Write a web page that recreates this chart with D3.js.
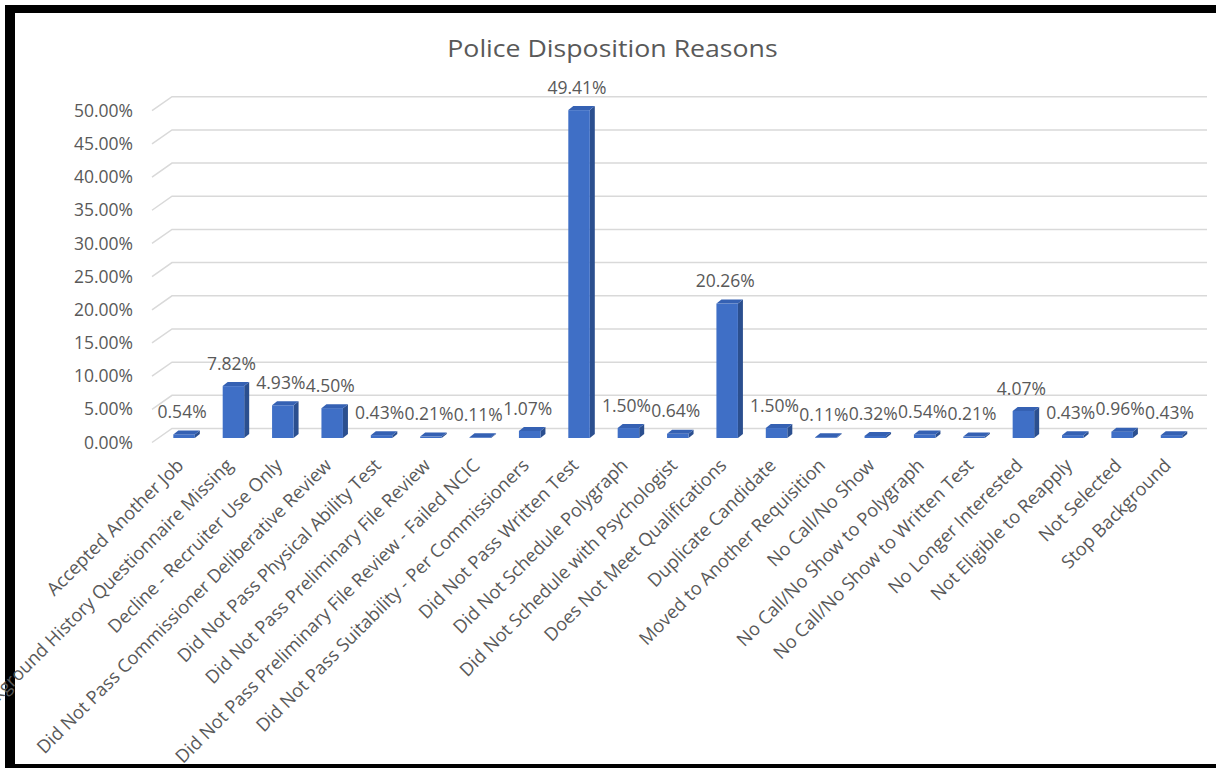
<!DOCTYPE html>
<html>
<head>
<meta charset="utf-8">
<script src="https://cdn.jsdelivr.net/npm/d3@7"></script>
<style>
  body { margin: 0; background: #fff; }
  svg { display: block; font-family: "Open Sans", sans-serif; }
</style>
</head>
<body>
<svg id="chart" width="1216" height="768"></svg>
<script>
const categories = [
  'Accepted Another Job',
  'Background History Questionnaire Missing',
  'Decline - Recruiter Use Only',
  'Did Not Pass Commissioner Deliberative Review',
  'Did Not Pass Physical Ability Test',
  'Did Not Pass Preliminary File Review',
  'Did Not Pass Preliminary File Review - Failed NCIC',
  'Did Not Pass Suitability - Per Commissioners',
  'Did Not Pass Written Test',
  'Did Not Schedule Polygraph',
  'Did Not Schedule with Psychologist',
  'Does Not Meet Qualifications',
  'Duplicate Candidate',
  'Moved to Another Requisition',
  'No Call/No Show',
  'No Call/No Show to Polygraph',
  'No Call/No Show to Written Test',
  'No Longer Interested',
  'Not Eligible to Reapply',
  'Not Selected',
  'Stop Background'
];
const values = [0.54, 7.82, 4.93, 4.50, 0.43, 0.21, 0.11, 1.07, 49.41, 1.50, 0.64,
  20.26, 1.50, 0.11, 0.32, 0.54, 0.21, 4.07, 0.43, 0.96, 0.43];
const yTicks = [0, 5, 10, 15, 20, 25, 30, 35, 40, 45, 50];
const title = 'Police Disposition Reasons';

const data = categories.map((c, i) => ({ label: c, value: values[i] }));
const svg = d3.select('#chart');
const textColor = '#595959';
const fmt = v => v.toFixed(2) + '%';

// 3d layout: back wall, depth offset of the floor
const backLeft = 172, backRight = 1207;
const depth = { dx: 20, dy: 14 };
const bar3d = { dx: 5, dy: 4 };

const x = d3.scaleBand()
  .domain(categories)
  .range([159.4, 1196.2])
  .paddingInner(0.5645)
  .paddingOuter(0.282);

// gridlines sit on back wall, bars a bit forward
const yBack = d3.scaleLinear().domain([0, 50]).range([428.5, 96.7]);
const yBar = d3.scaleLinear().domain([0, 50]).range([438, 106.2]);

// frame
svg.append('rect').attr('x', 5).attr('y', 5).attr('width', 1211).attr('height', 8).attr('fill', '#000');
svg.append('rect').attr('x', 5).attr('y', 5).attr('width', 10).attr('height', 763).attr('fill', '#000');
svg.append('rect').attr('x', 5).attr('y', 764).attr('width', 1211).attr('height', 4).attr('fill', '#000');

// title
svg.append('text')
  .attr('transform', 'translate(612.5,57) scale(1.16,1)')
  .attr('text-anchor', 'middle')
  .attr('font-size', 23)
  .attr('fill', textColor)
  .text(title);

// gridlines
svg.append('g').selectAll('path')
  .data(yTicks)
  .join('path')
  .attr('d', t => `M${backLeft - depth.dx},${yBack(t) + depth.dy}L${backLeft},${yBack(t)}L${backRight},${yBack(t)}`)
  .attr('fill', 'none')
  .attr('stroke', '#d9d9d9')
  .attr('stroke-width', 1.5);

// y axis labels
svg.append('g').selectAll('text')
  .data(yTicks)
  .join('text')
  .attr('x', 133)
  .attr('y', t => yBack(t) + depth.dy)
  .attr('dy', '0.35em')
  .attr('text-anchor', 'end')
  .attr('font-size', 17.5)
  .attr('fill', textColor)
  .text(t => fmt(t));

// bars
const bars = svg.append('g').selectAll('g')
  .data(data)
  .join('g');

const w = x.bandwidth();
bars.append('path') // side
  .attr('d', d => {
    const x0 = x(d.label) + w, yt = yBar(d.value), yb = yBar(0);
    return `M${x0},${yt}L${x0 + bar3d.dx},${yt - bar3d.dy}L${x0 + bar3d.dx},${yb - bar3d.dy}L${x0},${yb}Z`;
  })
  .attr('fill', '#2b4f8f');
bars.append('rect') // front
  .attr('x', d => x(d.label))
  .attr('y', d => yBar(d.value))
  .attr('width', w)
  .attr('height', d => yBar(0) - yBar(d.value))
  .attr('fill', '#3f6fc6');
bars.append('path') // top
  .attr('d', d => {
    const x0 = x(d.label), yt = yBar(d.value);
    return `M${x0},${yt}L${x0 + bar3d.dx},${yt - bar3d.dy}L${x0 + w + bar3d.dx},${yt - bar3d.dy}L${x0 + w},${yt}Z`;
  })
  .attr('fill', '#3561b3');

// value labels
svg.append('g').selectAll('text')
  .data(data)
  .join('text')
  .attr('x', d => x(d.label) + w / 2 - 2)
  .attr('y', d => yBar(d.value) - 22.5)
  .attr('dy', '0.35em')
  .attr('text-anchor', 'middle')
  .attr('font-size', 17.5)
  .attr('fill', textColor)
  .text(d => fmt(d.value));

// category labels
svg.append('g').selectAll('text')
  .data(data)
  .join('text')
  .attr('transform', d => `translate(${x(d.label) + w / 2 - 4},462) rotate(-45)`)
  .attr('dy', '0.35em')
  .attr('text-anchor', 'end')
  .attr('font-size', 18.3)
  .attr('fill', textColor)
  .text(d => d.label);
</script>
</body>
</html>
